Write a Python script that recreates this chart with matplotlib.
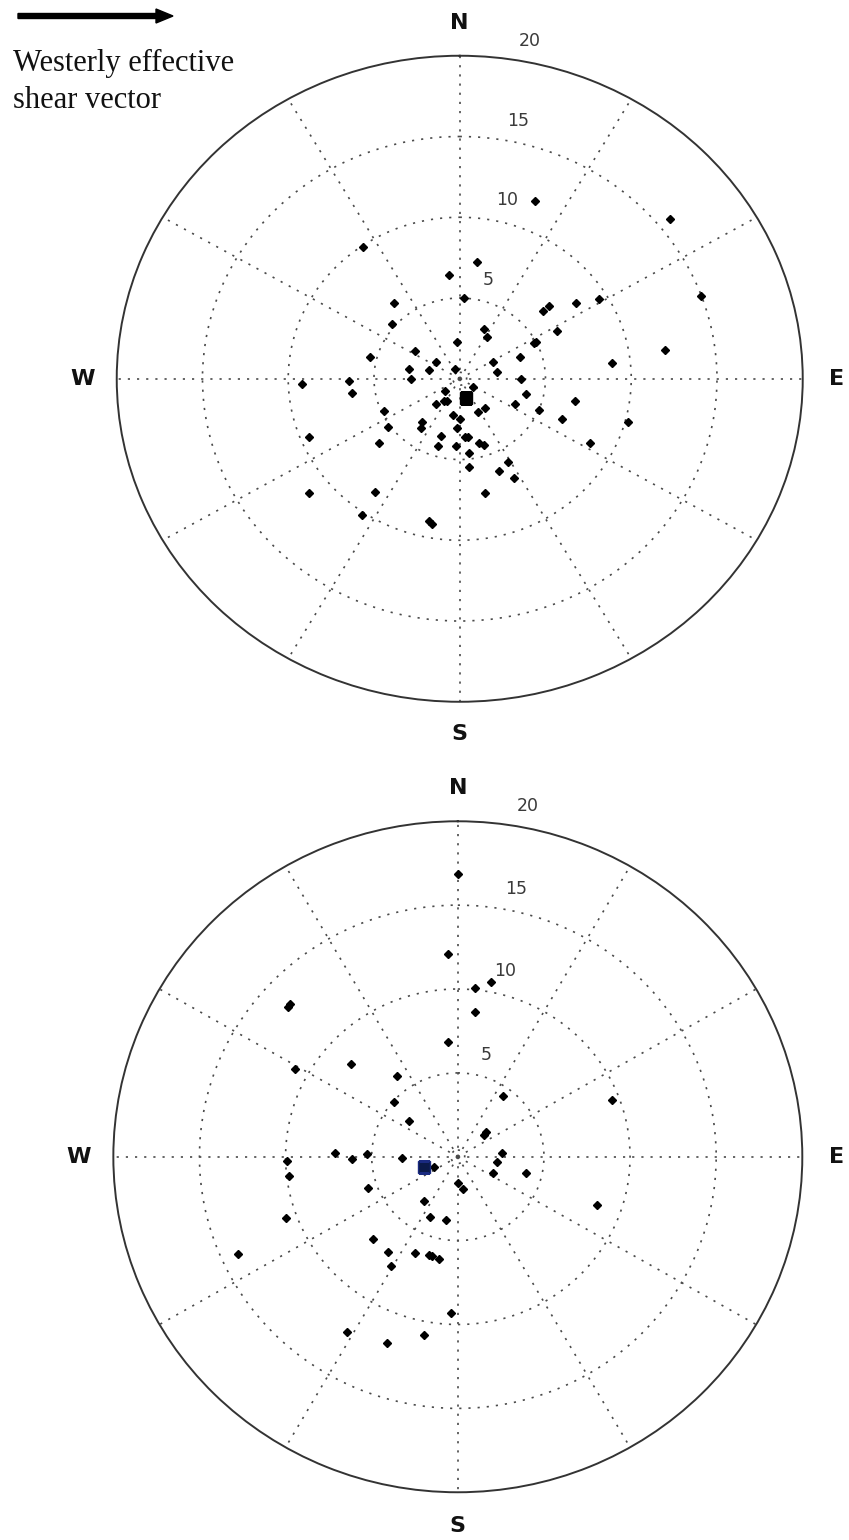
import numpy as np
import matplotlib
matplotlib.use("Agg")
import matplotlib.pyplot as plt

# ---------------- data (east / north components of the shear vector) -------------
top_u = [4.39, -5.66, 0.99, -0.61, 0.27, -3.81, 5.22, 4.87, 6.78, 8.12,
         -3.97, 1.42, 1.57, 5.66, -0.16, 4.33, 4.45, -2.61, -5.21, 3.50,
         -1.40, 1.92, 8.90, -2.94, -1.81, -0.26, 2.17, -2.86, 3.56, -9.21,
         -6.45, -6.26, 0.79, -0.86, 3.85, -1.40, -0.92, -0.72, 6.71, 3.22,
         1.49, 1.07, -4.43, 4.64, -0.37, 0.02, 5.95, 9.80, -2.18, -2.26,
         -4.20, -0.16, -8.77, -1.11, 0.31, 0.47, -4.69, -1.28, -0.20, 1.14,
         1.40, 7.60, 0.54, 2.82, 0.54, 2.27, 3.15, -8.77, -4.94, 1.49,
         -5.71, -1.81, -1.60, 12.28, 14.05, 11.95]
top_v = [11.03, 8.18, 7.23, 6.45, 4.98, 4.71, 4.53, 4.18, 4.71, 4.96,
         3.39, 3.07, 2.61, 2.96, 2.26, 2.20, 2.28, 1.74, 1.33, 1.33,
         1.04, 1.06, 1.00, 0.61, 0.53, 0.63, 0.44, 0.01, -0.01, -0.32,
         -0.15, -0.86, -0.51, -0.76, -0.94, -1.56, -1.37, -1.37, -1.37, -1.56,
         -1.81, -2.07, -1.99, -1.91, -2.24, -2.51, -2.51, -2.69, -2.69, -3.05,
         -3.00, -3.05, -3.62, -3.54, -3.62, -3.62, -3.99, -4.16, -4.14, -3.99,
         -4.10, -3.98, -4.59, -5.13, -5.44, -5.73, -6.14, -7.09, -7.03, -7.09,
         -8.41, -8.79, -9.01, 9.89, 5.15, 1.76]
top_mean_u = [0.37]
top_mean_v = [-1.21]

bot_u = [0.03, -0.57, -9.88, -9.72, -0.57, -6.22, -9.45, -3.55, -3.72, -2.85,
         -7.11, -6.14, -5.29, -3.26, 1.95, 1.01, 1.01, 2.64, 8.94, 1.52,
         1.64, 2.57, 2.29, -1.36, 2.06, 3.94, -9.90, -9.82, 0.03, 0.32,
         -5.20, 8.07, -1.98, -9.98, -1.61, -0.67, -4.92, -4.07, -2.49, -1.69,
         -1.50, -1.09, -3.88, -0.41, -12.76, -6.43, -4.11, -1.96]
bot_v = [16.88, 12.08, 8.92, 9.08, 6.85, 5.55, 5.21, 4.79, 3.29, 2.16,
         0.25, -0.11, 0.16, -0.07, 10.43, 10.05, 8.61, 3.65, 3.38, 1.32,
         1.46, 0.24, -0.30, -0.63, -0.95, -0.95, -0.27, -1.15, -1.55, -1.94,
         -1.85, -2.88, -2.62, -3.67, -3.58, -3.75, -4.89, -5.68, -5.76, -5.84,
         -5.92, -6.10, -6.51, -9.30, -5.80, -10.45, -11.10, -10.63]
bot_mean_u = [-1.96]
bot_mean_v = [-0.63]

ring_radii = [0.4, 5, 10, 15]
ring_labels = ["5", "10", "15", "20"]
ring_label_theta = [15, 14, 12, 11]     # degrees clockwise from north
ring_label_r = [6.3, 11.4, 16.3, 21.3]
spoke_deg = list(range(0, 360, 30))
cardinals = ["N", "E", "S", "W"]
cardinal_deg = [0, 90, 180, 270]

# ---------------- figure ----------------
fig = plt.figure(figsize=(8.49, 15.40), dpi=100)
fig.patch.set_facecolor("white")

def polar_panel(rect, u, v, mu, mv, mean_color, mean_edge):
    ax = fig.add_axes(rect, projection="polar")
    ax.set_aspect("auto")
    ax.set_theta_zero_location("N")
    ax.set_theta_direction(-1)
    ax.set_rlim(0, 20)
    ax.set_xticks(np.deg2rad(spoke_deg))
    ax.set_xticklabels([])
    ax.set_yticks(ring_radii)
    ax.set_yticklabels([])
    ax.tick_params(length=0)
    ax.grid(True, color="#4a4a4a", linestyle=(0, (1.3, 4.2)), linewidth=1.2)
    ax.spines["polar"].set_color("#333333")
    ax.spines["polar"].set_linewidth(1.4)
    u = np.asarray(u); v = np.asarray(v)
    th = np.arctan2(u, v)
    r = np.hypot(u, v)
    ax.plot(th, r, linestyle="none", marker="D", markersize=4.4,
            color="black", zorder=5, clip_on=False)
    mu = np.asarray(mu); mv = np.asarray(mv)
    ax.plot(np.arctan2(mu, mv), np.hypot(mu, mv), linestyle="none", marker="s",
            markersize=9, markerfacecolor=mean_color, markeredgecolor=mean_edge,
            markeredgewidth=1.0, zorder=6)
    for lab, td, rr in zip(ring_labels, ring_label_theta, ring_label_r):
        ax.text(np.deg2rad(td), rr, lab, ha="center", va="center",
                fontsize=12.5, color="#3a3a3a", family="DejaVu Sans",
                clip_on=False)
    for lab, td in zip(cardinals, cardinal_deg):
        ax.text(np.deg2rad(td), 22.0, lab, ha="center", va="center",
                fontsize=16, fontweight="bold", color="#111111",
                family="DejaVu Sans", clip_on=False)
    return ax

polar_panel([0.1375, 0.5443, 0.808, 0.4195], top_u, top_v,
            top_mean_u, top_mean_v, "black", "black")
polar_panel([0.1335, 0.0310, 0.8115, 0.4357], bot_u, bot_v,
            bot_mean_u, bot_mean_v, "#0b1a4a", "#1a2a80")

# ---------------- westerly shear arrow + caption ----------------
fig.patches.append(matplotlib.patches.FancyArrow(
    18 / 849, 1 - 16 / 1540, (156 - 18) / 849, 0,
    width=5 / 1540, head_width=14 / 1540, head_length=17 / 849,
    length_includes_head=False, color="black", transform=fig.transFigure,
    figure=fig))
fig.text(13 / 849, 1 - 63 / 1540, "Westerly effective", ha="left",
         va="center", fontsize=22, family="Liberation Serif", color="#111111")
fig.text(13 / 849, 1 - 100 / 1540, "shear vector", ha="left",
         va="center", fontsize=22, family="Liberation Serif", color="#111111")

fig.savefig("out.png", dpi=100, facecolor="white")
